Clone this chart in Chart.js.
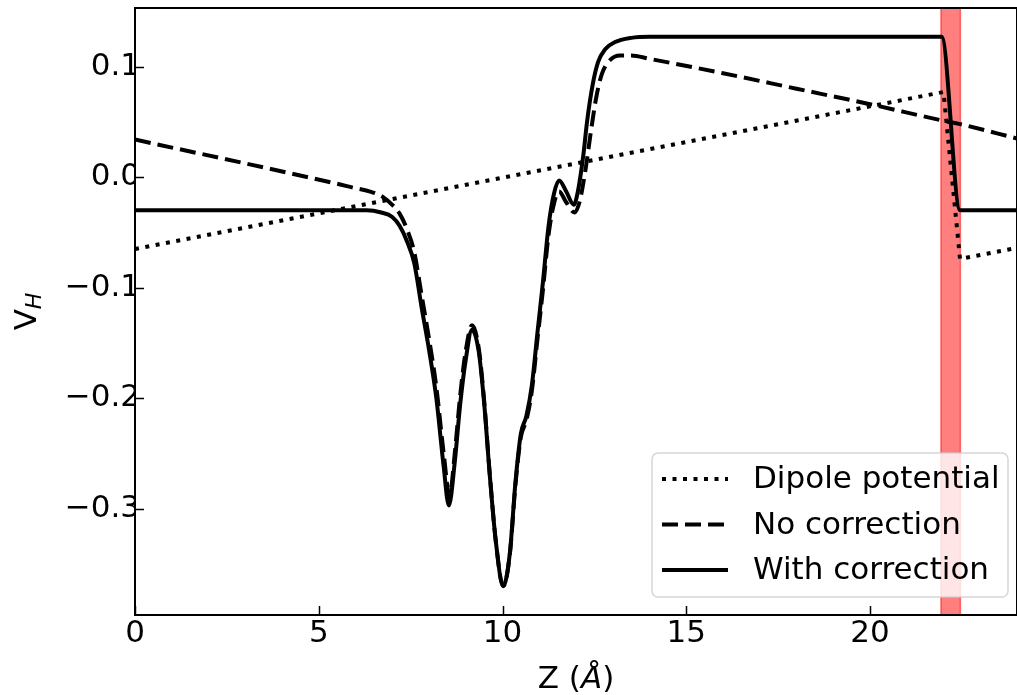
<!DOCTYPE html>
<html>
<head>
<meta charset="utf-8">
<script src="https://cdn.jsdelivr.net/npm/chart.js@4.4.1/dist/chart.umd.min.js"></script>
<style>
  html, body { margin: 0; padding: 0; background: #fff; }
  #wrap { width: 1017px; height: 695px; }
</style>
</head>
<body>
<div id="wrap"><canvas id="myChart" width="1017" height="695"></canvas></div>
<script>
// values
const zDipole = [0, 22.0, 22.45, 24];
const vDipole = [-0.065, 0.077, -0.074, -0.064];

const zNoCorr = [0, 5.5, 6.0, 6.4, 6.75, 7.0, 7.2, 7.4, 7.6, 7.8, 8.0, 8.2, 8.4, 8.56, 8.7, 8.85, 9.0, 9.17,
  9.35, 9.5, 9.65, 9.82, 10.02, 10.2, 10.35, 10.5, 10.65, 10.8, 10.95, 11.1, 11.25, 11.4, 11.54, 11.72,
  11.96, 12.1, 12.25, 12.4, 12.55, 12.7, 12.9, 13.2, 13.5, 14, 16, 18, 20, 22, 22.45, 24];
const vNoCorr = [0.034, -0.006, -0.010, -0.013, -0.018, -0.025, -0.033, -0.047, -0.068, -0.107, -0.146,
  -0.190, -0.250, -0.288, -0.250, -0.197, -0.157, -0.134, -0.154, -0.202, -0.267, -0.330, -0.370, -0.341,
  -0.279, -0.235, -0.220, -0.193, -0.147, -0.102, -0.053, -0.024, -0.013, -0.022, -0.032, -0.022, 0.005,
  0.040, 0.072, 0.093, 0.105, 0.110, 0.110, 0.107, 0.094, 0.080, 0.066, 0.051, 0.048, 0.035];

const zWithCorr = [0, 5.5, 6.3, 6.7, 7.0, 7.2, 7.4, 7.6, 7.8, 8.0, 8.2, 8.4, 8.54, 8.7, 8.85, 9.0, 9.17,
  9.35, 9.5, 9.65, 9.82, 10.02, 10.2, 10.35, 10.5, 10.65, 10.8, 10.95, 11.1, 11.25, 11.4, 11.54, 11.72,
  11.94, 12.05, 12.2, 12.3, 12.45, 12.6, 12.8, 13.05, 13.5, 14, 21.95, 22.45, 24];
const vWithCorr = [-0.030, -0.030, -0.030, -0.032, -0.036, -0.044, -0.058, -0.078, -0.118, -0.156, -0.200,
  -0.262, -0.297, -0.258, -0.205, -0.165, -0.138, -0.157, -0.204, -0.268, -0.330, -0.370, -0.340, -0.277,
  -0.232, -0.216, -0.188, -0.141, -0.095, -0.045, -0.015, -0.003, -0.012, -0.025, -0.013, 0.020, 0.050,
  0.083, 0.104, 0.116, 0.122, 0.126, 0.127, 0.127, -0.030, -0.030];

const seriesNames = ['Dipole potential', 'No correction', 'With correction'];
const xTicks = [0, 5, 10, 15, 20];
const yTicks = [-0.3, -0.2, -0.1, 0.0, 0.1];
const bandRange = [21.93, 22.46];

const FONT = "'DejaVu Sans', sans-serif";

function toPoints(xs, ys) {
  return xs.map((x, i) => ({ x: x, y: ys[i] }));
}

function fmtTick(v) {
  const s = Math.abs(v) < 1e-9 ? '0.0' : Math.abs(v).toFixed(1);
  return v < -1e-9 ? '\u2212' + s : s;
}

// red shaded slab behind the lines
const bandPlugin = {
  id: 'band',
  beforeDatasetsDraw(chart) {
    const { ctx, chartArea, scales } = chart;
    const x0 = scales.x.getPixelForValue(bandRange[0]);
    const x1 = scales.x.getPixelForValue(bandRange[1]);
    ctx.save();
    ctx.fillStyle = 'rgba(255,0,0,0.5)';
    ctx.fillRect(x0, chartArea.top, x1 - x0, chartArea.bottom - chartArea.top);
    ctx.strokeStyle = 'rgba(255,0,0,0.5)';
    ctx.lineWidth = 1.5;
    ctx.strokeRect(x0, chartArea.top, x1 - x0, chartArea.bottom - chartArea.top);
    ctx.restore();
  }
};

// spines, inward ticks, axis titles, legend
const framePlugin = {
  id: 'frame',
  afterDraw(chart) {
    const { ctx, chartArea, scales } = chart;
    const { left, top, right, bottom } = chartArea;
    ctx.save();
    ctx.strokeStyle = '#000';
    ctx.lineWidth = 2;
    ctx.strokeRect(left, top, right - left, bottom - top);

    ctx.lineWidth = 1.5;
    scales.x.ticks.forEach(t => {
      const px = Math.round(scales.x.getPixelForValue(t.value)) + 0.5;
      ctx.beginPath();
      ctx.moveTo(px, bottom);
      ctx.lineTo(px, bottom - 9);
      ctx.stroke();
    });
    scales.y.ticks.forEach(t => {
      const py = Math.round(scales.y.getPixelForValue(t.value)) + 0.5;
      ctx.beginPath();
      ctx.moveTo(left, py);
      ctx.lineTo(left + 9, py);
      ctx.stroke();
    });

    // x title: Z (Å) with italic Å
    ctx.fillStyle = '#000';
    ctx.textBaseline = 'alphabetic';
    const normal = '31px ' + FONT;
    const italic = 'italic 31px ' + FONT;
    ctx.font = normal;
    const w1 = ctx.measureText('Z (').width;
    const w3 = ctx.measureText(')').width;
    ctx.font = italic;
    const w2 = ctx.measureText('\u00c5').width;
    let xs = (left + right) / 2 - (w1 + w2 + w3) / 2;
    const base = 688;
    ctx.font = normal;
    ctx.fillText('Z (', xs, base);
    ctx.font = italic;
    ctx.fillText('\u00c5', xs + w1, base);
    ctx.font = normal;
    ctx.fillText(')', xs + w1 + w2, base);

    // y title: V_H
    ctx.save();
    ctx.translate(36, (top + bottom) / 2);
    ctx.rotate(-Math.PI / 2);
    ctx.font = normal;
    const wv = ctx.measureText('V').width;
    ctx.font = 'italic 22px ' + FONT;
    const wh = ctx.measureText('H').width;
    ctx.font = normal;
    ctx.fillText('V', -(wv + wh) / 2, 0);
    ctx.font = 'italic 22px ' + FONT;
    ctx.fillText('H', -(wv + wh) / 2 + wv, 5);
    ctx.restore();

    // legend box
    const bx0 = right - 365, bx1 = right - 9, by0 = bottom - 162, by1 = bottom - 18;
    ctx.beginPath();
    ctx.roundRect(bx0, by0, bx1 - bx0, by1 - by0, 6);
    ctx.fillStyle = 'rgba(255,255,255,0.8)';
    ctx.fill();
    ctx.strokeStyle = 'rgba(204,204,204,0.8)';
    ctx.lineWidth = 1.5;
    ctx.stroke();

    const order = [0, 1, 2];
    order.forEach((di, row) => {
      const ds = chart.data.datasets[di];
      const cy = by0 + 26 + row * 45.5;
      ctx.beginPath();
      ctx.setLineDash(ds.borderDash || []);
      ctx.lineWidth = ds.borderWidth;
      ctx.strokeStyle = '#000';
      ctx.moveTo(bx0 + 10, cy);
      ctx.lineTo(bx0 + 76, cy);
      ctx.stroke();
      ctx.setLineDash([]);
      ctx.fillStyle = '#000';
      ctx.font = '31px ' + FONT;
      ctx.textBaseline = 'middle';
      ctx.fillText(ds.label, bx0 + 101, cy + 1);
    });
    ctx.restore();
  }
};

const ctx = document.getElementById('myChart').getContext('2d');
const myChart = new Chart(ctx, {
  type: 'line',
  data: {
    datasets: [
      {
        label: seriesNames[0],
        data: toPoints(zDipole, vDipole),
        borderColor: '#000',
        borderWidth: 4,
        borderDash: [4, 6.5],
        pointRadius: 0,
        tension: 0,
        order: 2,
      },
      {
        label: seriesNames[1],
        data: toPoints(zNoCorr, vNoCorr),
        borderColor: '#000',
        borderWidth: 4,
        borderDash: [16, 7],
        pointRadius: 0,
        cubicInterpolationMode: 'monotone',
        order: 1,
      },
      {
        label: seriesNames[2],
        data: toPoints(zWithCorr, vWithCorr),
        borderColor: '#000',
        borderWidth: 4,
        pointRadius: 0,
        cubicInterpolationMode: 'monotone',
        order: 0,
      },
    ],
  },
  options: {
    responsive: false,
    animation: false,
    devicePixelRatio: 1,
    layout: { autoPadding: false, padding: { top: 8, right: 0, left: 0, bottom: 0 } },
    plugins: {
      legend: { display: false },
      tooltip: { enabled: false },
    },
    scales: {
      x: {
        type: 'linear',
        min: 0,
        max: 24,
        grid: { display: false, drawTicks: false },
        border: { display: false },
        afterBuildTicks: s => { s.ticks = xTicks.map(v => ({ value: v })); },
        afterFit: s => { s.height = 80; s.paddingLeft = 0; s.paddingRight = 0; },
        ticks: {
          padding: 0,
          color: '#000',
          font: { family: FONT, size: 31 },
          maxRotation: 0,
          callback: v => String(v),
        },
      },
      y: {
        type: 'linear',
        min: -0.396,
        max: 0.153,
        grid: { display: false, drawTicks: false },
        border: { display: false },
        afterBuildTicks: s => { s.ticks = yTicks.map(v => ({ value: v })); },
        afterFit: s => { s.width = 135; s.paddingTop = 0; s.paddingBottom = 0; },
        ticks: {
          padding: -5,
          color: '#000',
          font: { family: FONT, size: 31 },
          callback: v => fmtTick(v),
        },
      },
    },
  },
  plugins: [bandPlugin, framePlugin],
});
</script>
</body>
</html>
